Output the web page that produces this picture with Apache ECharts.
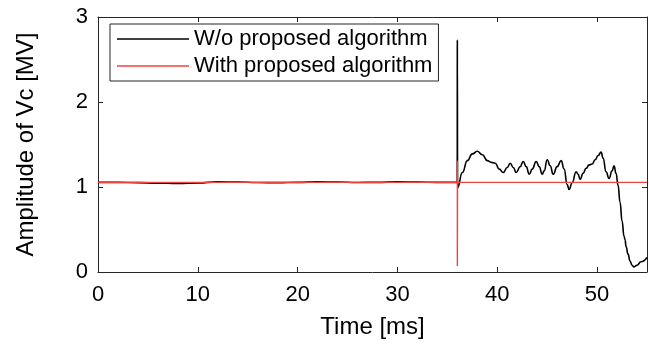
<!DOCTYPE html>
<html>
<head>
<meta charset="utf-8">
<script src="https://cdn.jsdelivr.net/npm/echarts@6/dist/echarts.min.js"></script>
<style>
  html, body { margin: 0; padding: 0; background: #fff; }
  #chart { width: 649px; height: 344px; }
</style>
</head>
<body>
<div id="chart"></div>
<script>
// Cavity voltage amplitude vs. time, with and without the proposed algorithm
const seriesNames = ['W/o proposed algorithm', 'With proposed algorithm'];

// Without the algorithm: time [ms]
const timeWithout = [
  0, 2, 4, 6, 8, 10, 12, 14, 16, 18, 20, 22, 24, 26, 28, 30, 32, 34, 35.99,
  36.0, 36.02,
  36.5, 37.0, 37.5, 38.0, 38.5, 39.0, 39.4, 39.8, 40.2, 40.6,
  41.0, 41.3, 41.6, 41.9, 42.3, 42.6, 42.9, 43.2, 43.5, 43.9, 44.2, 44.5, 44.7,
  45.0, 45.3, 45.6, 46.0, 46.4, 46.7, 47.0, 47.2, 47.5, 47.9, 48.1, 48.3, 48.6,
  48.9, 49.2, 49.5, 49.8, 50.1, 50.4, 50.6, 50.9, 51.2, 51.5, 51.7, 51.9, 52.1,
  52.3, 52.5, 52.7, 52.8, 52.9, 53.1, 53.3, 53.5, 53.7, 54.0, 54.4, 55.0
];
// Without the algorithm: amplitude [MV]
const vcWithout = [
  1.055, 1.055, 1.052, 1.046, 1.042, 1.048, 1.060, 1.058, 1.053, 1.051, 1.055, 1.060, 1.058, 1.053, 1.055, 1.060, 1.058, 1.055, 1.055,
  2.73, 0.99,
  1.17, 1.31, 1.39, 1.42, 1.38, 1.31, 1.29, 1.28, 1.21, 1.17,
  1.23, 1.28, 1.23, 1.17, 1.24, 1.30, 1.24, 1.15, 1.21, 1.30, 1.24, 1.15, 1.19,
  1.32, 1.25, 1.15, 1.24, 1.31, 1.21, 1.03, 0.97, 1.05, 1.18, 1.15, 1.09, 1.16,
  1.22, 1.26, 1.27, 1.32, 1.37, 1.41, 1.34, 1.18, 1.10, 1.19, 1.25, 1.16, 1.02,
  0.82, 0.60, 0.42, 0.38, 0.30, 0.21, 0.13, 0.08, 0.06, 0.08, 0.12, 0.17
];

// With the algorithm: time [ms] and amplitude [MV]
const timeWith = [0, 35.98, 36.0, 36.0, 36.0, 36.02, 55];
const vcWith = [1.055, 1.055, 1.055, 1.31, 0.07, 1.055, 1.055];

// Axis tick values
const xTicks = [0, 10, 20, 30, 40, 50];
const yTicks = [0, 1, 2, 3];

const pair = (xs, ys) => xs.map((x, i) => [x, ys[i]]);

const chart = echarts.init(document.getElementById('chart'), null, { renderer: 'canvas' });

const frameColor = '#262626';
const font = 'Liberation Sans, Arial, sans-serif';

const axisCommon = {
  type: 'value',
  axisLine: { show: true, onZero: false, lineStyle: { color: frameColor, width: 1 } },
  axisTick: { show: true, inside: true, length: 5, lineStyle: { color: frameColor, width: 1 } },
  splitLine: { show: false }
};

chart.setOption({
  animation: false,
  backgroundColor: '#fff',
  grid: { left: 98, right: 2, top: 17, bottom: 69, containLabel: false },
  xAxis: [
    Object.assign({}, axisCommon, {
      position: 'bottom', min: 0, max: 55, interval: 10,
      name: 'Time [ms]', nameLocation: 'middle', nameGap: 43,
      nameTextStyle: { fontFamily: font, fontSize: 24, color: '#000' },
      axisLabel: {
        show: true, margin: 12, fontFamily: font, fontSize: 22, color: '#000',
        showMaxLabel: false,
        formatter: v => (xTicks.indexOf(v) >= 0 ? String(v) : '')
      }
    }),
    Object.assign({}, axisCommon, {
      position: 'top', min: 0, max: 55, interval: 10,
      axisLabel: { show: false }
    })
  ],
  yAxis: [
    Object.assign({}, axisCommon, {
      position: 'left', min: 0, max: 3, interval: 1,
      name: 'Amplitude of Vc [MV]', nameLocation: 'middle', nameGap: 60,
      nameTextStyle: { fontFamily: font, fontSize: 24, color: '#000' },
      axisLabel: {
        show: true, margin: 10, fontFamily: font, fontSize: 22, color: '#000',
        formatter: v => (yTicks.indexOf(v) >= 0 ? String(v) : '')
      }
    }),
    Object.assign({}, axisCommon, {
      position: 'right', min: 0, max: 3, interval: 1,
      axisLabel: { show: false }
    })
  ],
  legend: {
    orient: 'vertical',
    left: 110, top: 24,
    padding: [4, 6, 4, 7],
    itemGap: 5,
    itemWidth: 72, itemHeight: 1.5,
    icon: 'rect',
    borderColor: frameColor, borderWidth: 1,
    backgroundColor: '#fff',
    textStyle: { fontFamily: font, fontSize: 22, color: '#000' },
    data: seriesNames
  },
  series: [
    {
      name: seriesNames[0], type: 'line',
      data: pair(timeWithout, vcWithout),
      showSymbol: false, smooth: 0.5, smoothMonotone: 'x',
      lineStyle: { color: '#000', width: 1.6 },
      itemStyle: { color: '#000' },
      z: 2
    },
    {
      name: seriesNames[1], type: 'line',
      data: pair(timeWith, vcWith),
      showSymbol: false,
      lineStyle: { color: '#f0453f', width: 1.4 },
      itemStyle: { color: '#f0453f' },
      z: 3
    }
  ]
});
</script>
</body>
</html>
